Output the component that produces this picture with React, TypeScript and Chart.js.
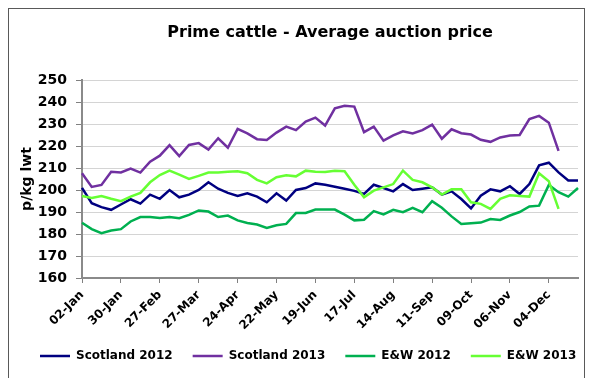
import { useEffect, useRef } from "react";
import { Chart, registerables } from "chart.js";

Chart.register(...registerables);

const weeks = [
  "02-Jan", "09-Jan", "16-Jan", "23-Jan", "30-Jan", "06-Feb", "13-Feb", "20-Feb",
  "27-Feb", "06-Mar", "13-Mar", "20-Mar", "27-Mar", "03-Apr", "10-Apr", "17-Apr",
  "24-Apr", "01-May", "08-May", "15-May", "22-May", "29-May", "05-Jun", "12-Jun",
  "19-Jun", "26-Jun", "03-Jul", "10-Jul", "17-Jul", "24-Jul", "31-Jul", "07-Aug",
  "14-Aug", "21-Aug", "28-Aug", "04-Sep", "11-Sep", "18-Sep", "25-Sep", "02-Oct",
  "09-Oct", "16-Oct", "23-Oct", "30-Oct", "06-Nov", "13-Nov", "20-Nov", "27-Nov",
  "04-Dec", "11-Dec", "18-Dec", "25-Dec",
];

const scotland2012 = [
  201, 194, 192.2, 191, 193.4, 195.8, 193.8, 197.9, 196, 200, 196.7, 197.9, 200,
  203.5, 200.6, 198.7, 197.3, 198.5, 197, 194.4, 198.5, 195.2, 200, 200.9, 203,
  202.4, 201.5, 200.6, 199.6, 198.2, 202.4, 200.9, 199.4, 202.7, 200, 200.6,
  201.2, 197.9, 199.4, 195.9, 191.6, 197.4, 200.3, 199.4, 201.7, 198.2, 202.7,
  211.2, 212.4, 208, 204.3, 204.3,
];

const scotland2013 = [
  207.6, 201.4, 202.3, 208.3, 208, 209.7, 207.9, 212.9, 215.6, 220.4, 215.4,
  220.5, 221.3, 218.4, 223.5, 219.2, 227.8, 225.7, 223.1, 222.7, 226.1, 228.8,
  227.2, 231.1, 232.9, 229.3, 237.1, 238.3, 237.9, 226.3, 228.8, 222.4, 224.8,
  226.7, 225.7, 227.2, 229.7, 223.3, 227.6, 225.8, 225.2, 222.8, 221.9, 223.9,
  224.8, 225, 232.2, 233.7, 230.6, 217.8,
];

const ew2012 = [
  185.1, 182.2, 180.4, 181.6, 182.2, 185.7, 187.7, 187.7, 187.3, 187.7, 187.2,
  188.7, 190.7, 190.2, 187.7, 188.4, 186.2, 185, 184.3, 182.8, 184, 184.6, 189.5,
  189.6, 191.1, 191.1, 191.1, 188.8, 186.2, 186.5, 190.4, 188.9, 191, 189.9,
  191.9, 189.9, 194.9, 191.9, 188, 184.6, 184.9, 185.2, 186.8, 186.4, 188.4, 190,
  192.5, 192.9, 202.3, 199, 197, 200.9,
];

const ew2013 = [
  197.3, 196.4, 197.3, 196, 194.9, 197, 198.7, 203.5, 206.8, 208.8, 207, 205,
  206.4, 207.9, 208, 208.3, 208.5, 207.6, 204.6, 203, 205.8, 206.7, 206.2, 208.8,
  208.3, 208.2, 208.8, 208.5, 202.4, 196.7, 199.7, 201.2, 202.7, 208.8, 204.6,
  203.5, 201.2, 197.9, 200.3, 200.3, 194.4, 193.7, 191.4, 196, 197.6, 197.3, 197,
  207.6, 204, 191.4,
];

const seriesNames = ["Scotland 2012", "Scotland 2013", "E&W 2012", "E&W 2013"];
const seriesColors = ["#000080", "#7030A0", "#00B050", "#66FF33"];
const yMin = 160;
const yMax = 250;
const yStep = 10;
const labelEvery = 4;
const chartTitle = "Prime cattle - Average auction price";
const yTitle = "p/kg lwt";

export default function App() {
  const ref = useRef<HTMLCanvasElement>(null);

  useEffect(() => {
    const seriesData = [scotland2012, scotland2013, ew2012, ew2013];
    const font = "'DejaVu Sans', sans-serif";
    const chart = new Chart(ref.current as HTMLCanvasElement, {
      type: "line",
      data: {
        labels: weeks,
        datasets: seriesData.map((d, i) => ({
          label: seriesNames[i],
          data: d,
          borderColor: seriesColors[i],
          backgroundColor: seriesColors[i],
          borderWidth: 2.5,
          pointRadius: 0,
          tension: 0,
          fill: false,
          yAxisID: "y",
          order: seriesData.length - i,
        })),
      },
      options: {
        animation: false,
        responsive: false,
        layout: { padding: { left: 11, right: 0, top: 0, bottom: 0 } },
        plugins: {
          tooltip: { enabled: false },
          title: {
            display: true,
            text: chartTitle,
            fullSize: false,
            color: "#000",
            font: { family: font, size: 16, weight: "bold", lineHeight: 1.2 },
            padding: { top: 14.4, bottom: 37.4 },
          },
          legend: {
            display: true,
            position: "bottom",
            align: "start",
            labels: {
              color: "#000",
              font: { family: font, size: 12, weight: "bold" },
              usePointStyle: true,
              pointStyle: "line",
              pointStyleWidth: 30,
              padding: 20,
              sort: (a: any, b: any) => a.datasetIndex - b.datasetIndex,
            },
          },
        },
        scales: {
          y: {
            type: "linear",
            position: "left",
            min: yMin,
            max: yMax,
            afterFit: (s: any) => {
              s.width = 62;
            },
            ticks: {
              stepSize: yStep,
              color: "#000",
              padding: 9,
              font: { family: font, size: 14, weight: "bold" },
            },
            grid: {
              color: "#d4d4d4",
              lineWidth: 1,
              drawTicks: true,
              tickLength: 6,
              tickColor: "#808080",
            },
            border: { display: true, color: "#8a8a8a", width: 2 },
            title: {
              display: true,
              text: yTitle,
              color: "#000",
              font: { family: font, size: 14, weight: "bold", lineHeight: 1 },
              padding: { top: 0, bottom: 0 },
            },
          },
          x: {
            type: "category",
            offset: false,
            afterFit: (s: any) => {
              s.height = 52;
            },
            ticks: {
              autoSkip: false,
              minRotation: 45,
              maxRotation: 45,
              padding: 5,
              color: "#000",
              font: { family: font, size: 12, weight: "bold" },
              callback: (_v: any, i: number) => (i % labelEvery === 0 ? weeks[i] : ""),
            },
            grid: {
              display: true,
              drawOnChartArea: false,
              drawTicks: true,
              tickLength: 5,
              tickColor: (c: any) => (c.index % labelEvery === 0 ? "#808080" : "rgba(0,0,0,0)"),
            },
            border: { display: true, color: "#8a8a8a", width: 2 },
          },
          yDummy: {
            type: "linear",
            position: "right",
            display: true,
            afterFit: (s: any) => {
              s.width = 22;
            },
            ticks: { display: false },
            grid: { display: false, drawOnChartArea: false, drawTicks: false },
            border: { display: false },
          },
        },
      } as any,
    });
    return () => chart.destroy();
  }, []);

  return (
    <>
      <div
        style={{
          position: "fixed",
          left: 8,
          top: 8,
          width: 575,
          height: 400,
          border: "1px solid #595959",
        }}
      />
      <canvas
        ref={ref}
        width={591}
        height={363}
        style={{ position: "fixed", left: 9, top: 9, width: 591, height: 363 }}
      />
    </>
  );
}
